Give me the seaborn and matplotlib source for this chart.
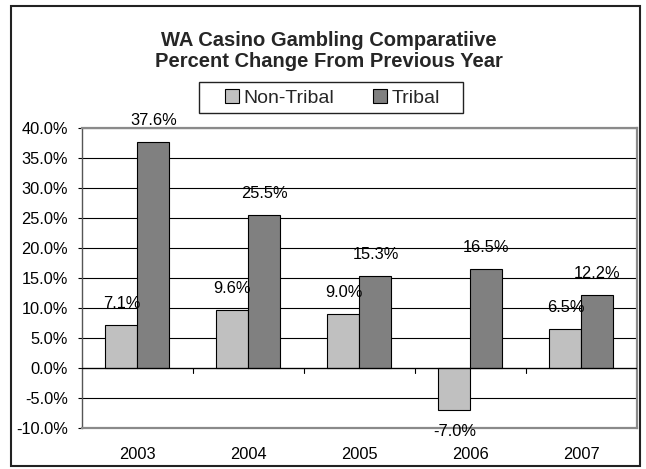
import matplotlib
matplotlib.use("Agg")
import matplotlib.pyplot as plt
import matplotlib.patches as mpatches
from matplotlib.ticker import FuncFormatter, MultipleLocator
import seaborn as sns
import pandas as pd

years = ["2003", "2004", "2005", "2006", "2007"]
non_tribal = [7.1, 9.6, 9.0, -7.0, 6.5]
tribal = [37.6, 25.5, 15.3, 16.5, 12.2]
series_names = ["Non-Tribal", "Tribal"]
series_colors = ["#C0C0C0", "#808080"]

df = pd.DataFrame({
    "Year": years * 2,
    "Change": non_tribal + tribal,
    "Series": [series_names[0]] * len(years) + [series_names[1]] * len(years),
})

sns.set_theme(style="white")
plt.rcParams["font.family"] = ["Liberation Sans", "DejaVu Sans"]

BAR_GROUP = 0.577

fig = plt.figure(figsize=(6.46, 4.69), dpi=100)
ax = fig.add_axes([0.1269, 0.0874, 0.8591, 0.6397])

sns.barplot(data=df, x="Year", y="Change", hue="Series", order=years,
            hue_order=series_names, palette=series_colors, width=BAR_GROUP,
            edgecolor="black", linewidth=0.8, ax=ax, legend=True, zorder=3)

ax.set_ylim(-10, 40)
ax.set_xlim(-0.5, len(years) - 0.5)
ax.yaxis.set_major_locator(MultipleLocator(5))
ax.yaxis.set_major_formatter(FuncFormatter(lambda v, p: f"{v:.1f}%"))
ax.grid(axis="y", color="black", linewidth=0.8, zorder=0)
ax.set_axisbelow(True)
ax.set_xlabel("")
ax.set_ylabel("")
for s in ax.spines.values():
    s.set_color("#8a8a8a")
    s.set_linewidth(1.6)
ax.spines["left"].set_color("#555555")
ax.spines["left"].set_linewidth(1.0)
ax.tick_params(axis="y", which="major", length=3, width=0.8, color="black",
               left=True, labelsize=11.8, pad=7, labelcolor="black")
ax.tick_params(axis="x", length=0, labelsize=11.8, pad=14, labelcolor="black")

# zero line with category separator ticks
ax.axhline(0, color="black", linewidth=0.9, zorder=4)
for b in range(1, len(years)):
    ax.plot([b - 0.5, b - 0.5], [0, -0.85], color="black", linewidth=0.8,
            zorder=4, clip_on=False)

# value labels at the end of each bar
def put_labels(values, shift):
    for i, v in enumerate(values):
        ax.annotate(f"{v:.1f}%", (i + shift, v),
                    xytext=(0, 15.5 if v >= 0 else -15.5), textcoords="offset points",
                    ha="center", va="center", fontsize=11.8, color="black",
                    annotation_clip=False, zorder=6)

put_labels(non_tribal, -BAR_GROUP / 4)
put_labels(tribal, BAR_GROUP / 4)

# legend strip with its own box
leg = ax.legend(loc="center", bbox_to_anchor=(0.514, 0.791), bbox_transform=fig.transFigure,
                ncol=2, frameon=False, fontsize=14, handlelength=0.75,
                handleheight=0.68, handletextpad=0.2, columnspacing=2.0,
                borderpad=0.0)
for h in leg.legend_handles:
    h.set_edgecolor("black")
    h.set_linewidth(0.8)
fig.patches.append(mpatches.Rectangle((199 / 646, 1 - 113 / 469), 264 / 646, 31 / 469,
                                      transform=fig.transFigure, fill=False,
                                      edgecolor="#222222", linewidth=1.0))

fig.text(0.509, 1 - 40 / 469, "WA Casino Gambling Comparatiive", ha="center", va="center",
         fontsize=14.5, fontweight="bold")
fig.text(0.509, 1 - 61 / 469, "Percent Change From Previous Year", ha="center", va="center",
         fontsize=14.5, fontweight="bold")

fig.patches.append(mpatches.Rectangle((11 / 646, 3 / 469), 629 / 646, 460 / 469,
                                      transform=fig.transFigure, fill=False,
                                      edgecolor="#222222", linewidth=1.5))

fig.savefig("out.png", dpi=100, facecolor="white")
